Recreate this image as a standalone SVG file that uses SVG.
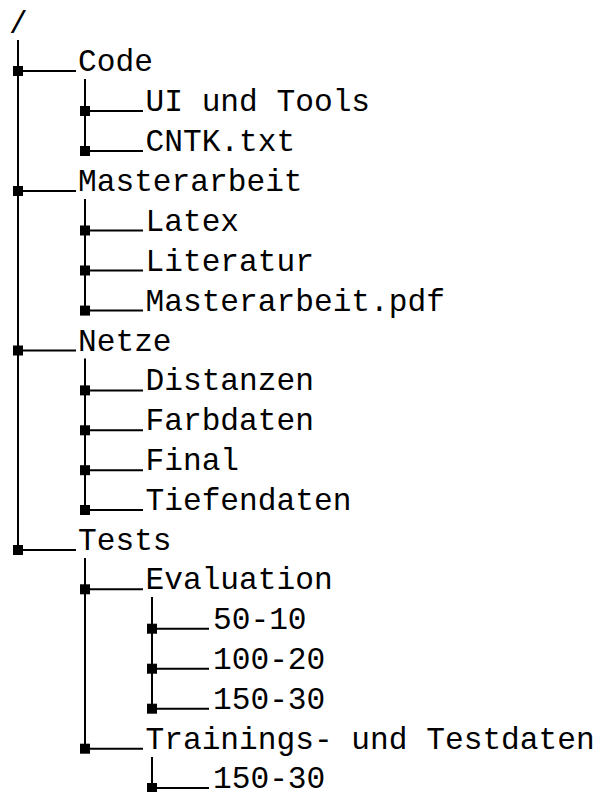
<svg xmlns="http://www.w3.org/2000/svg" width="600" height="792" viewBox="0 0 600 792">
<style>
text{font-family:"Liberation Mono","Courier New",monospace;font-size:31.2px;fill:#000}
.c line{stroke:#000;stroke-width:2}
.c rect{fill:#000}
</style>
<rect width="600" height="792" fill="#fff"/>
<g id="connectors" class="c">
<line x1="18" y1="40" x2="18" y2="550"/>
<line x1="85" y1="79" x2="85" y2="151"/>
<line x1="85" y1="199" x2="85" y2="310.6"/>
<line x1="85" y1="358.6" x2="85" y2="510"/>
<line x1="85" y1="558" x2="85" y2="749"/>
<line x1="152" y1="597" x2="152" y2="709"/>
<line x1="152" y1="757" x2="152" y2="788"/>
<line x1="18" y1="71" x2="76" y2="71"/><rect x="13" y="66" width="10" height="10"/>
<line x1="85" y1="111" x2="143" y2="111"/><rect x="80" y="106" width="10" height="10"/>
<line x1="85" y1="151" x2="143" y2="151"/><rect x="80" y="146" width="10" height="10"/>
<line x1="18" y1="191" x2="76" y2="191"/><rect x="13" y="186" width="10" height="10"/>
<line x1="85" y1="230.5" x2="143" y2="230.5"/><rect x="80" y="225.5" width="10" height="10"/>
<line x1="85" y1="270.5" x2="143" y2="270.5"/><rect x="80" y="265.5" width="10" height="10"/>
<line x1="85" y1="310.6" x2="143" y2="310.6"/><rect x="80" y="305.6" width="10" height="10"/>
<line x1="18" y1="350.5" x2="76" y2="350.5"/><rect x="13" y="345.5" width="10" height="10"/>
<line x1="85" y1="390.4" x2="143" y2="390.4"/><rect x="80" y="385.4" width="10" height="10"/>
<line x1="85" y1="430.3" x2="143" y2="430.3"/><rect x="80" y="425.3" width="10" height="10"/>
<line x1="85" y1="470.2" x2="143" y2="470.2"/><rect x="80" y="465.2" width="10" height="10"/>
<line x1="85" y1="510" x2="143" y2="510"/><rect x="80" y="505" width="10" height="10"/>
<line x1="18" y1="550" x2="76" y2="550"/><rect x="13" y="545" width="10" height="10"/>
<line x1="85" y1="589.3" x2="143" y2="589.3"/><rect x="80" y="584.3" width="10" height="10"/>
<line x1="152" y1="628.7" x2="209" y2="628.7"/><rect x="147" y="623.7" width="10" height="10"/>
<line x1="152" y1="668.7" x2="209" y2="668.7"/><rect x="147" y="663.7" width="10" height="10"/>
<line x1="152" y1="708.7" x2="209" y2="708.7"/><rect x="147" y="703.7" width="10" height="10"/>
<line x1="85" y1="748.7" x2="143" y2="748.7"/><rect x="80" y="743.7" width="10" height="10"/>
<line x1="152" y1="788" x2="209" y2="788"/><rect x="147" y="783" width="10" height="10"/>
</g>
<g id="root"><text x="9" y="33">/</text></g>
<g id="n-code"><text x="78" y="71">Code</text></g>
<g id="n-ui"><text x="145.5" y="111">UI und Tools</text></g>
<g id="n-cntk"><text x="145.5" y="151">CNTK.txt</text></g>
<g id="n-masterarbeit"><text x="78" y="191">Masterarbeit</text></g>
<g id="n-latex"><text x="145.5" y="230.5">Latex</text></g>
<g id="n-literatur"><text x="145.5" y="270.5">Literatur</text></g>
<g id="n-pdf"><text x="145.5" y="310.6">Masterarbeit.pdf</text></g>
<g id="n-netze"><text x="78" y="350.5">Netze</text></g>
<g id="n-distanzen"><text x="145.5" y="390.4">Distanzen</text></g>
<g id="n-farbdaten"><text x="145.5" y="430.3">Farbdaten</text></g>
<g id="n-final"><text x="145.5" y="470.2">Final</text></g>
<g id="n-tiefendaten"><text x="145.5" y="510">Tiefendaten</text></g>
<g id="n-tests"><text x="78" y="550">Tests</text></g>
<g id="n-evaluation"><text x="145.5" y="589.3">Evaluation</text></g>
<g id="n-50-10"><text x="213" y="628.7">50-10</text></g>
<g id="n-100-20"><text x="213" y="668.7">100-20</text></g>
<g id="n-150-30a"><text x="213" y="708.7">150-30</text></g>
<g id="n-trainings"><text x="145.5" y="748.7">Trainings- und Testdaten</text></g>
<g id="n-150-30b"><text x="213" y="788">150-30</text></g>
</svg>
